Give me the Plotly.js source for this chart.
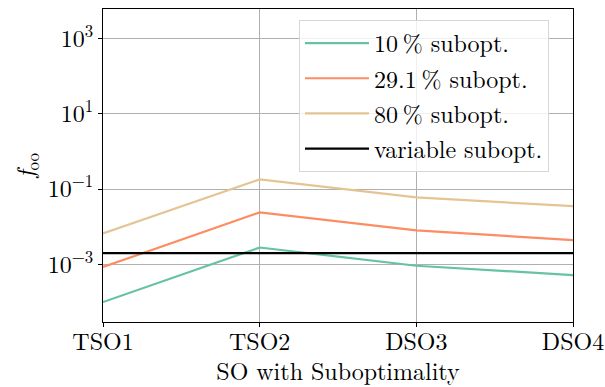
<!DOCTYPE html>
<html>
<head>
<meta charset="utf-8">
<script src="https://cdn.plot.ly/plotly-3.0.1.min.js"></script>
<style>html,body{margin:0;padding:0;background:#fff;}#chart{width:605px;height:387px;}</style>
</head>
<body>
<div id="chart"></div>
<script>
const categories = ["TSO1", "TSO2", "DSO3", "DSO4"];
const sub10 = [1.0e-4, 2.8e-3, 9.2e-4, 5.2e-4];
const sub29 = [8.5e-4, 0.024, 8.0e-3, 4.4e-3];
const sub80 = [6.6e-3, 0.18, 0.06, 0.035];
const subVar = [2.0e-3, 2.0e-3, 2.0e-3, 2.0e-3];
const seriesNames = ["10\u2009% subopt.", "29.1\u2009% subopt.", "80\u2009% subopt.", "variable subopt."];
const yTickVals = [1e-3, 1e-1, 1e1, 1e3];
const yTickText = ["10<sup>\u22123</sup>", "10<sup>\u22121</sup>", "10<sup>1</sup>", "10<sup>3</sup>"];

const font = "Latin Modern Roman";
const colors = ["#66c2a5", "#fc8d62", "#e5c494", "#000000"];
const series = [sub10, sub29, sub80, subVar];
const xIdx = categories.map((c, i) => i);

const traces = series.map((s, k) => ({
  x: xIdx, y: s, type: "scatter", mode: "lines", name: seriesNames[k],
  legendgroup: "g" + k,
  line: {color: colors[k], width: 2.2}
}));

const layout = {
  width: 605, height: 387,
  margin: {l: 103, r: 32, t: 9, b: 65},
  paper_bgcolor: "#fff", plot_bgcolor: "#fff",
  font: {family: font, size: 24, color: "#000"},
  showlegend: true,
  legend: {
    x: 0.417, y: 0.965, xanchor: "left", yanchor: "top",
    bgcolor: "rgba(255,255,255,0.8)", bordercolor: "#d6d6d6", borderwidth: 1,
    font: {family: font, size: 24}, tracegroupgap: 1, itemwidth: 64
  },
  xaxis: {
    range: [0, 3], tickvals: xIdx, ticktext: categories,
    showgrid: true, gridcolor: "#b0b0b0", gridwidth: 1,
    showline: true, linecolor: "#000", linewidth: 1, mirror: true,
    ticks: "outside", ticklen: 4, tickcolor: "#000",
    ticklabelstandoff: -6,
    zeroline: false,
    title: {text: "SO with Suboptimality", font: {family: font, size: 24}, standoff: 11},
    tickfont: {family: font, size: 24}
  },
  yaxis: {
    type: "log", range: [-4.53, 3.78],
    tickvals: yTickVals, ticktext: yTickText,
    showgrid: true, gridcolor: "#b0b0b0", gridwidth: 1,
    showline: true, linecolor: "#000", linewidth: 1, mirror: true,
    ticks: "outside", ticklen: 4, tickcolor: "#000",
    zeroline: false,
    title: {text: "<i>f</i><sub>oo</sub>", font: {family: font, size: 24}, standoff: 6},
    tickfont: {family: font, size: 24}
  }
};
Plotly.newPlot("chart", traces, layout, {staticPlot: true, displayModeBar: false});
</script>
</body>
</html>
